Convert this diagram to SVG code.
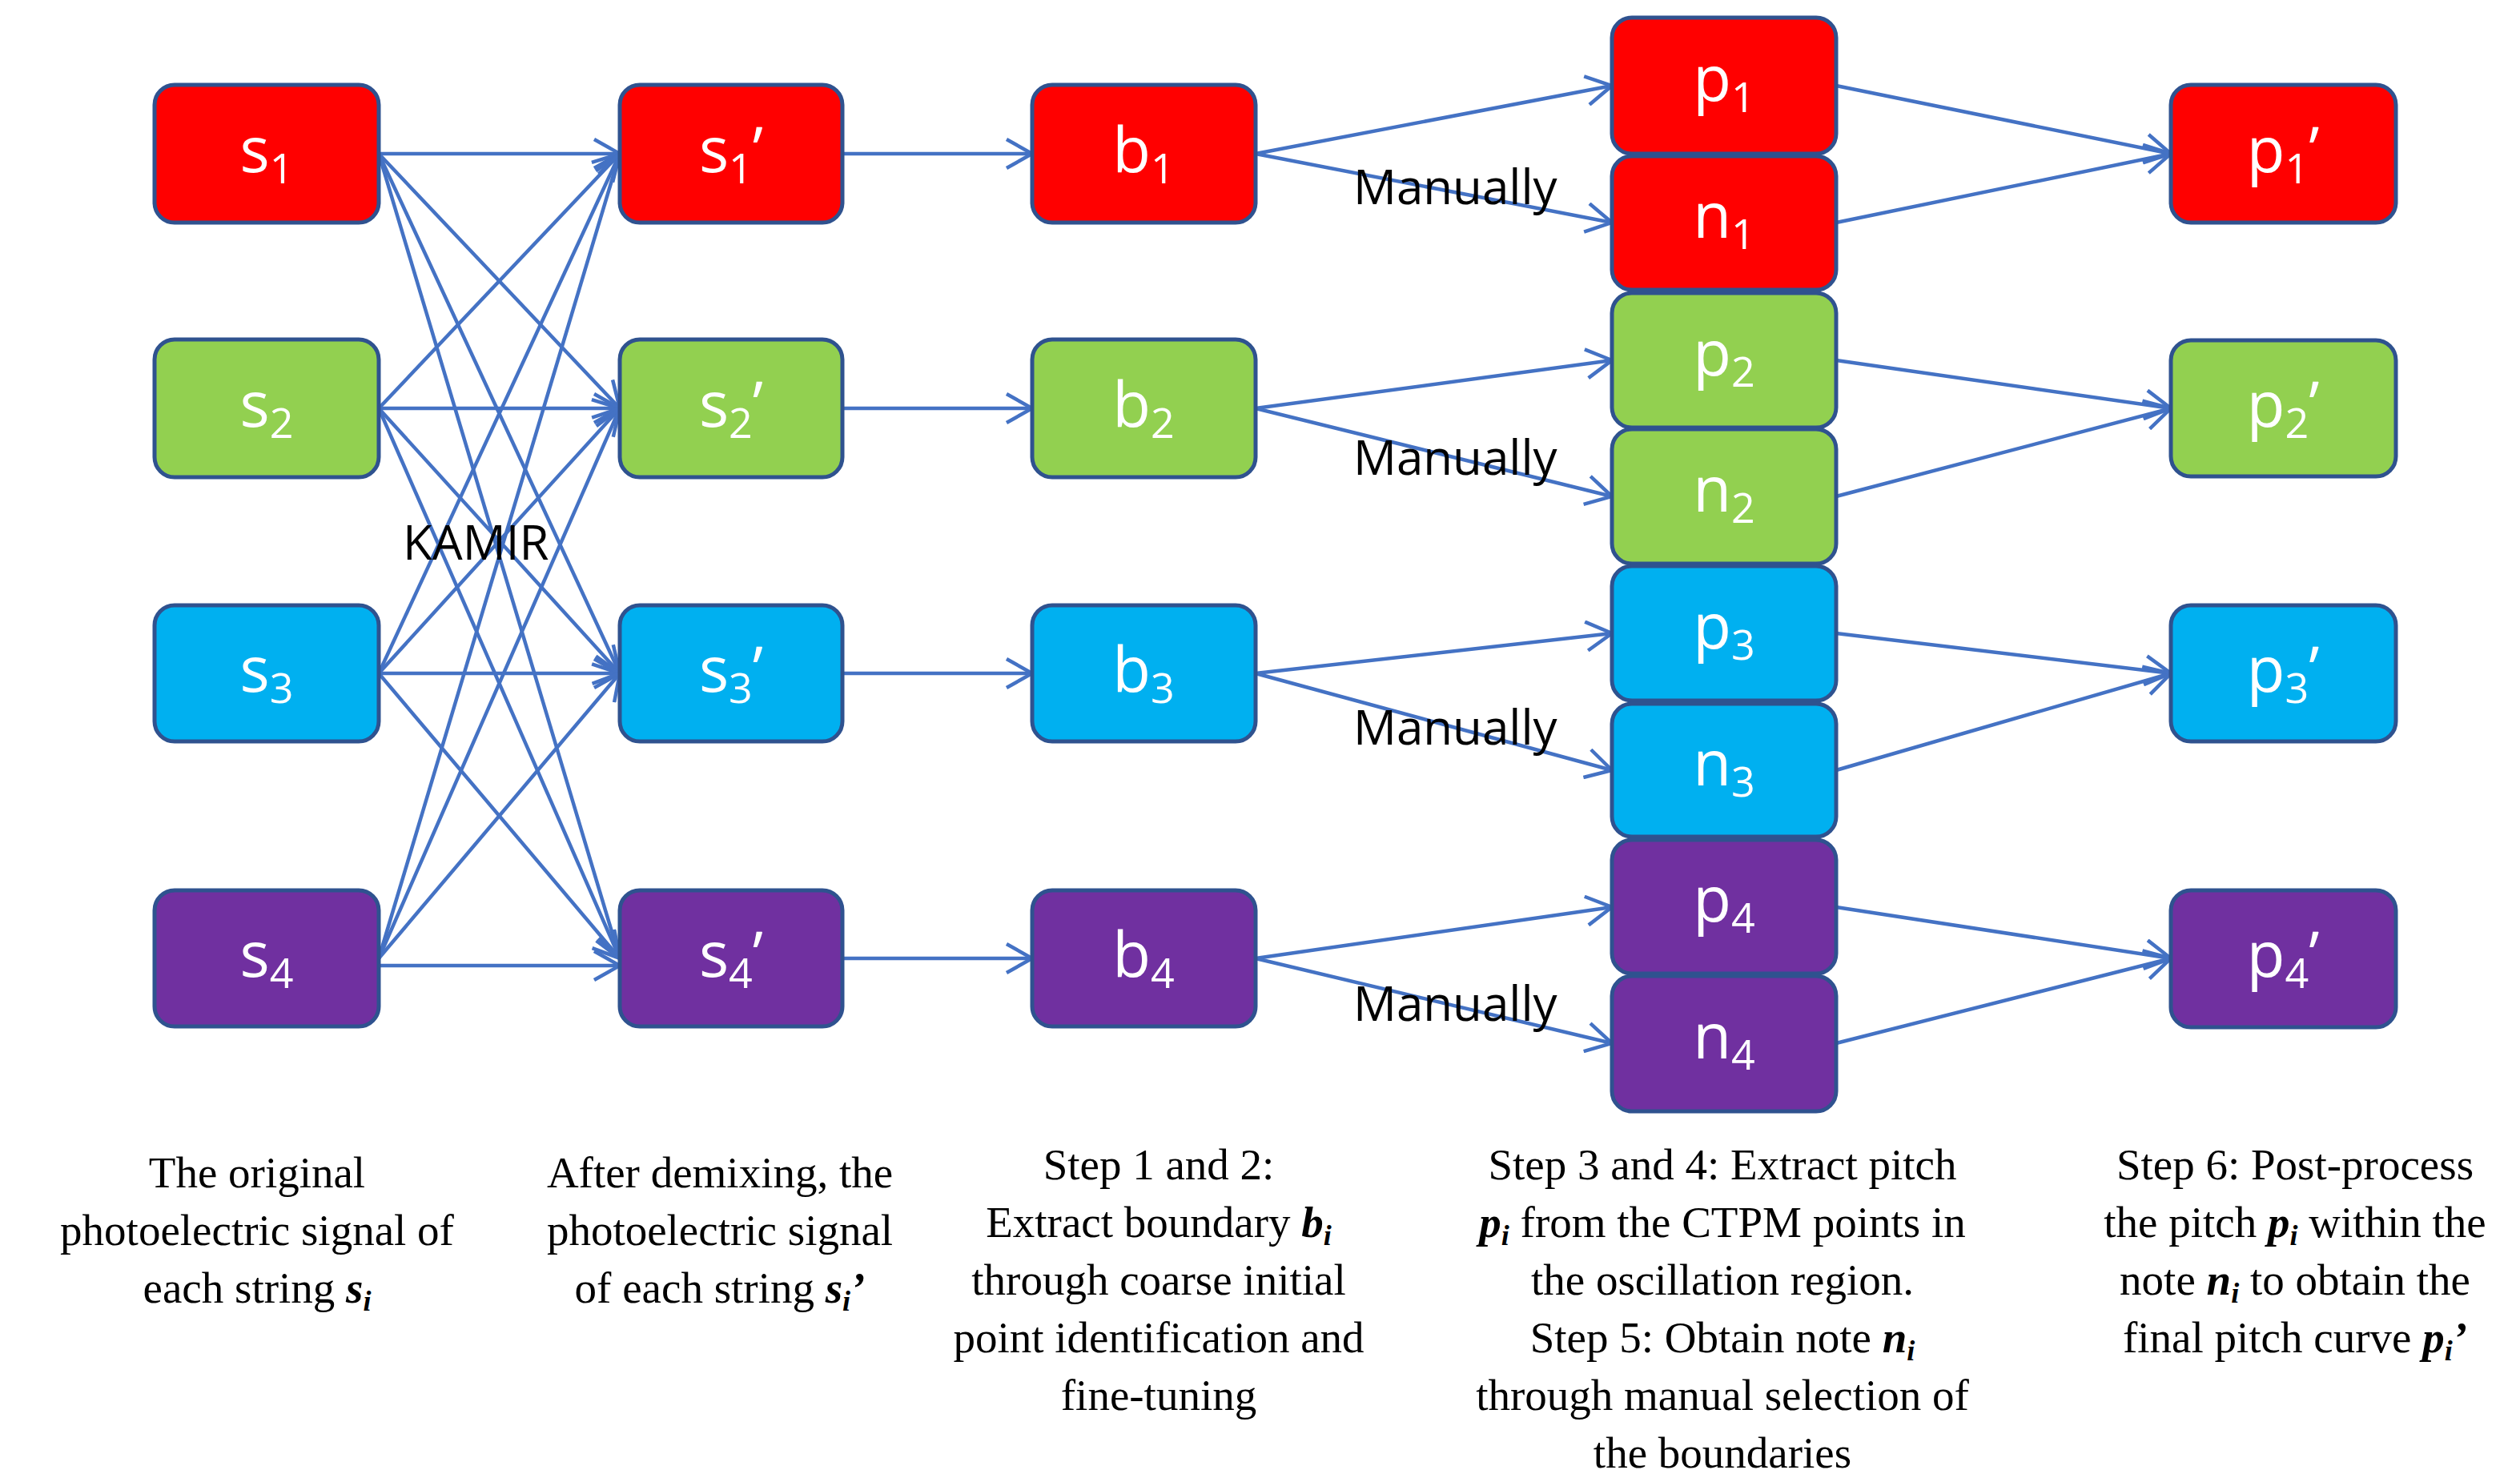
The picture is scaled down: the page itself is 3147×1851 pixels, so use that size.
<svg xmlns="http://www.w3.org/2000/svg" width="3147" height="1851" viewBox="0 0 3147 1851">
<style>
.n{stroke:#2F528F;stroke-width:5}
.r{fill:#FF0000}.g{fill:#92D050}.b{fill:#00B0F0}.v{fill:#7030A0}
.t{fill:#fff;font-family:"Open Sans","Liberation Sans",sans-serif;font-size:78px;text-anchor:middle}
.c line{stroke:#4472C4;stroke-width:4.5;marker-end:url(#a)}
.m{font-family:"Open Sans","Liberation Sans",sans-serif;font-size:60px;fill:#000}
.d{font-family:"Liberation Serif",serif;font-size:55px;text-anchor:middle;fill:#000}
</style>
<defs><marker id="a" markerUnits="userSpaceOnUse" markerWidth="40" markerHeight="40" refX="36" refY="20" orient="auto"><path d="M4,2 L36,20 L4,38" fill="none" stroke="#4472C4" stroke-width="4.5"/></marker></defs>
<rect width="3147" height="1851" fill="#fff"/>
<g class="c">
<line x1="473" y1="192" x2="774" y2="192"/><line x1="473" y1="192" x2="774" y2="510"/><line x1="473" y1="192" x2="774" y2="841"/><line x1="473" y1="192" x2="774" y2="1197"/>
<line x1="473" y1="510" x2="774" y2="192"/><line x1="473" y1="510" x2="774" y2="510"/><line x1="473" y1="510" x2="774" y2="841"/><line x1="473" y1="510" x2="774" y2="1197"/>
<line x1="473" y1="841" x2="774" y2="192"/><line x1="473" y1="841" x2="774" y2="510"/><line x1="473" y1="841" x2="774" y2="841"/><line x1="473" y1="841" x2="774" y2="1197"/>
<line x1="473" y1="1197" x2="774" y2="192"/><line x1="473" y1="1197" x2="774" y2="510"/><line x1="473" y1="1197" x2="774" y2="841"/><line x1="473" y1="1206" x2="774" y2="1206"/>
<line x1="1052" y1="192" x2="1289" y2="192"/><line x1="1052" y1="510" x2="1289" y2="510"/><line x1="1052" y1="841" x2="1289" y2="841"/><line x1="1052" y1="1197" x2="1289" y2="1197"/>
<line x1="1568" y1="192" x2="2013" y2="107"/><line x1="1568" y1="192" x2="2013" y2="278"/>
<line x1="1568" y1="510" x2="2013" y2="450"/><line x1="1568" y1="510" x2="2013" y2="620"/>
<line x1="1568" y1="841" x2="2013" y2="791"/><line x1="1568" y1="841" x2="2013" y2="962"/>
<line x1="1568" y1="1197" x2="2013" y2="1133"/><line x1="1568" y1="1197" x2="2013" y2="1303"/>
<line x1="2293" y1="107" x2="2711" y2="192"/><line x1="2293" y1="278" x2="2711" y2="192"/>
<line x1="2293" y1="450" x2="2711" y2="510"/><line x1="2293" y1="620" x2="2711" y2="510"/>
<line x1="2293" y1="791" x2="2711" y2="841"/><line x1="2293" y1="962" x2="2711" y2="841"/>
<line x1="2293" y1="1133" x2="2711" y2="1197"/><line x1="2293" y1="1303" x2="2711" y2="1197"/>
</g>
<g id="s1"><rect class="n r" x="193" y="106" width="280" height="172" rx="25"/><text class="t" x="333" y="215">s<tspan font-size="52" dy="14">1</tspan></text></g>
<g id="s2"><rect class="n g" x="193" y="424" width="280" height="172" rx="25"/><text class="t" x="333" y="533">s<tspan font-size="52" dy="14">2</tspan></text></g>
<g id="s3"><rect class="n b" x="193" y="756" width="280" height="170" rx="25"/><text class="t" x="333" y="864">s<tspan font-size="52" dy="14">3</tspan></text></g>
<g id="s4"><rect class="n v" x="193" y="1112" width="280" height="170" rx="25"/><text class="t" x="333" y="1220">s<tspan font-size="52" dy="14">4</tspan></text></g>
<g id="s1p"><rect class="n r" x="774" y="106" width="278" height="172" rx="25"/><text class="t" x="913" y="215">s<tspan font-size="52" dy="14">1</tspan><tspan dy="-14">’</tspan></text></g>
<g id="s2p"><rect class="n g" x="774" y="424" width="278" height="172" rx="25"/><text class="t" x="913" y="533">s<tspan font-size="52" dy="14">2</tspan><tspan dy="-14">’</tspan></text></g>
<g id="s3p"><rect class="n b" x="774" y="756" width="278" height="170" rx="25"/><text class="t" x="913" y="864">s<tspan font-size="52" dy="14">3</tspan><tspan dy="-14">’</tspan></text></g>
<g id="s4p"><rect class="n v" x="774" y="1112" width="278" height="170" rx="25"/><text class="t" x="913" y="1220">s<tspan font-size="52" dy="14">4</tspan><tspan dy="-14">’</tspan></text></g>
<g id="b1"><rect class="n r" x="1289" y="106" width="279" height="172" rx="25"/><text class="t" x="1428" y="215">b<tspan font-size="52" dy="14">1</tspan></text></g>
<g id="b2"><rect class="n g" x="1289" y="424" width="279" height="172" rx="25"/><text class="t" x="1428" y="533">b<tspan font-size="52" dy="14">2</tspan></text></g>
<g id="b3"><rect class="n b" x="1289" y="756" width="279" height="170" rx="25"/><text class="t" x="1428" y="864">b<tspan font-size="52" dy="14">3</tspan></text></g>
<g id="b4"><rect class="n v" x="1289" y="1112" width="279" height="170" rx="25"/><text class="t" x="1428" y="1220">b<tspan font-size="52" dy="14">4</tspan></text></g>
<g id="p1"><rect class="n r" x="2013" y="22" width="280" height="170" rx="25"/><text class="t" x="2153" y="126">p<tspan font-size="52" dy="14">1</tspan></text></g>
<g id="n1"><rect class="n r" x="2013" y="195" width="280" height="167" rx="25"/><text class="t" x="2153" y="297">n<tspan font-size="52" dy="14">1</tspan></text></g>
<g id="p2"><rect class="n g" x="2013" y="366" width="280" height="168" rx="25"/><text class="t" x="2153" y="469">p<tspan font-size="52" dy="14">2</tspan></text></g>
<g id="n2"><rect class="n g" x="2013" y="536" width="280" height="168" rx="25"/><text class="t" x="2153" y="639">n<tspan font-size="52" dy="14">2</tspan></text></g>
<g id="p3"><rect class="n b" x="2013" y="707" width="280" height="168" rx="25"/><text class="t" x="2153" y="810">p<tspan font-size="52" dy="14">3</tspan></text></g>
<g id="n3"><rect class="n b" x="2013" y="879" width="280" height="166" rx="25"/><text class="t" x="2153" y="981">n<tspan font-size="52" dy="14">3</tspan></text></g>
<g id="p4"><rect class="n v" x="2013" y="1049" width="280" height="167" rx="25"/><text class="t" x="2153" y="1151">p<tspan font-size="52" dy="14">4</tspan></text></g>
<g id="n4"><rect class="n v" x="2013" y="1219" width="280" height="169" rx="25"/><text class="t" x="2153" y="1322">n<tspan font-size="52" dy="14">4</tspan></text></g>
<g id="p1p"><rect class="n r" x="2711" y="106" width="281" height="172" rx="25"/><text class="t" x="2851" y="215">p<tspan font-size="52" dy="14">1</tspan><tspan dy="-14">’</tspan></text></g>
<g id="p2p"><rect class="n g" x="2711" y="425" width="281" height="170" rx="25"/><text class="t" x="2851" y="533">p<tspan font-size="52" dy="14">2</tspan><tspan dy="-14">’</tspan></text></g>
<g id="p3p"><rect class="n b" x="2711" y="756" width="281" height="170" rx="25"/><text class="t" x="2851" y="864">p<tspan font-size="52" dy="14">3</tspan><tspan dy="-14">’</tspan></text></g>
<g id="p4p"><rect class="n v" x="2711" y="1112" width="281" height="171" rx="25"/><text class="t" x="2851" y="1220">p<tspan font-size="52" dy="14">4</tspan><tspan dy="-14">’</tspan></text></g>
<text class="m" x="503" y="699" font-size="72">KAMIR</text>
<text class="m" x="1690" y="255">Manually</text>
<text class="m" x="1690" y="593">Manually</text>
<text class="m" x="1690" y="930">Manually</text>
<text class="m" x="1690" y="1275">Manually</text>
<text class="d"><tspan x="321" y="1483">The original</tspan><tspan x="321" y="1555">photoelectric signal of</tspan><tspan x="321" y="1627">each string <tspan font-weight="bold" font-style="italic">s<tspan font-size="36" dy="10">i</tspan></tspan></tspan></text>
<text class="d"><tspan x="899" y="1483">After demixing, the</tspan><tspan x="899" y="1555">photoelectric signal</tspan><tspan x="899" y="1627">of each string <tspan font-weight="bold" font-style="italic">s<tspan font-size="36" dy="10">i</tspan><tspan dy="-10">’</tspan></tspan></tspan></text>
<text class="d"><tspan x="1447" y="1473">Step 1 and 2:</tspan><tspan x="1447" y="1545">Extract boundary <tspan font-weight="bold" font-style="italic">b<tspan font-size="36" dy="10">i</tspan></tspan></tspan><tspan x="1447" y="1617">through coarse initial</tspan><tspan x="1447" y="1689">point identification and</tspan><tspan x="1447" y="1761">fine-tuning</tspan></text>
<text class="d"><tspan x="2151" y="1473">Step 3 and 4: Extract pitch</tspan><tspan x="2151" y="1545"><tspan font-weight="bold" font-style="italic">p<tspan font-size="36" dy="10">i</tspan></tspan><tspan dy="-10"> from the CTPM points in</tspan></tspan><tspan x="2151" y="1617">the oscillation region.</tspan><tspan x="2151" y="1689">Step 5: Obtain note <tspan font-weight="bold" font-style="italic">n<tspan font-size="36" dy="10">i</tspan></tspan></tspan><tspan x="2151" y="1761">through manual selection of</tspan><tspan x="2151" y="1833">the boundaries</tspan></text>
<text class="d"><tspan x="2866" y="1473">Step 6: Post-process</tspan><tspan x="2866" y="1545">the pitch <tspan font-weight="bold" font-style="italic">p<tspan font-size="36" dy="10">i</tspan></tspan><tspan dy="-10"> within the</tspan></tspan><tspan x="2866" y="1617">note <tspan font-weight="bold" font-style="italic">n<tspan font-size="36" dy="10">i</tspan></tspan><tspan dy="-10"> to obtain the</tspan></tspan><tspan x="2866" y="1689">final pitch curve <tspan font-weight="bold" font-style="italic">p<tspan font-size="36" dy="10">i</tspan><tspan dy="-10">’</tspan></tspan></tspan></text>
</svg>
